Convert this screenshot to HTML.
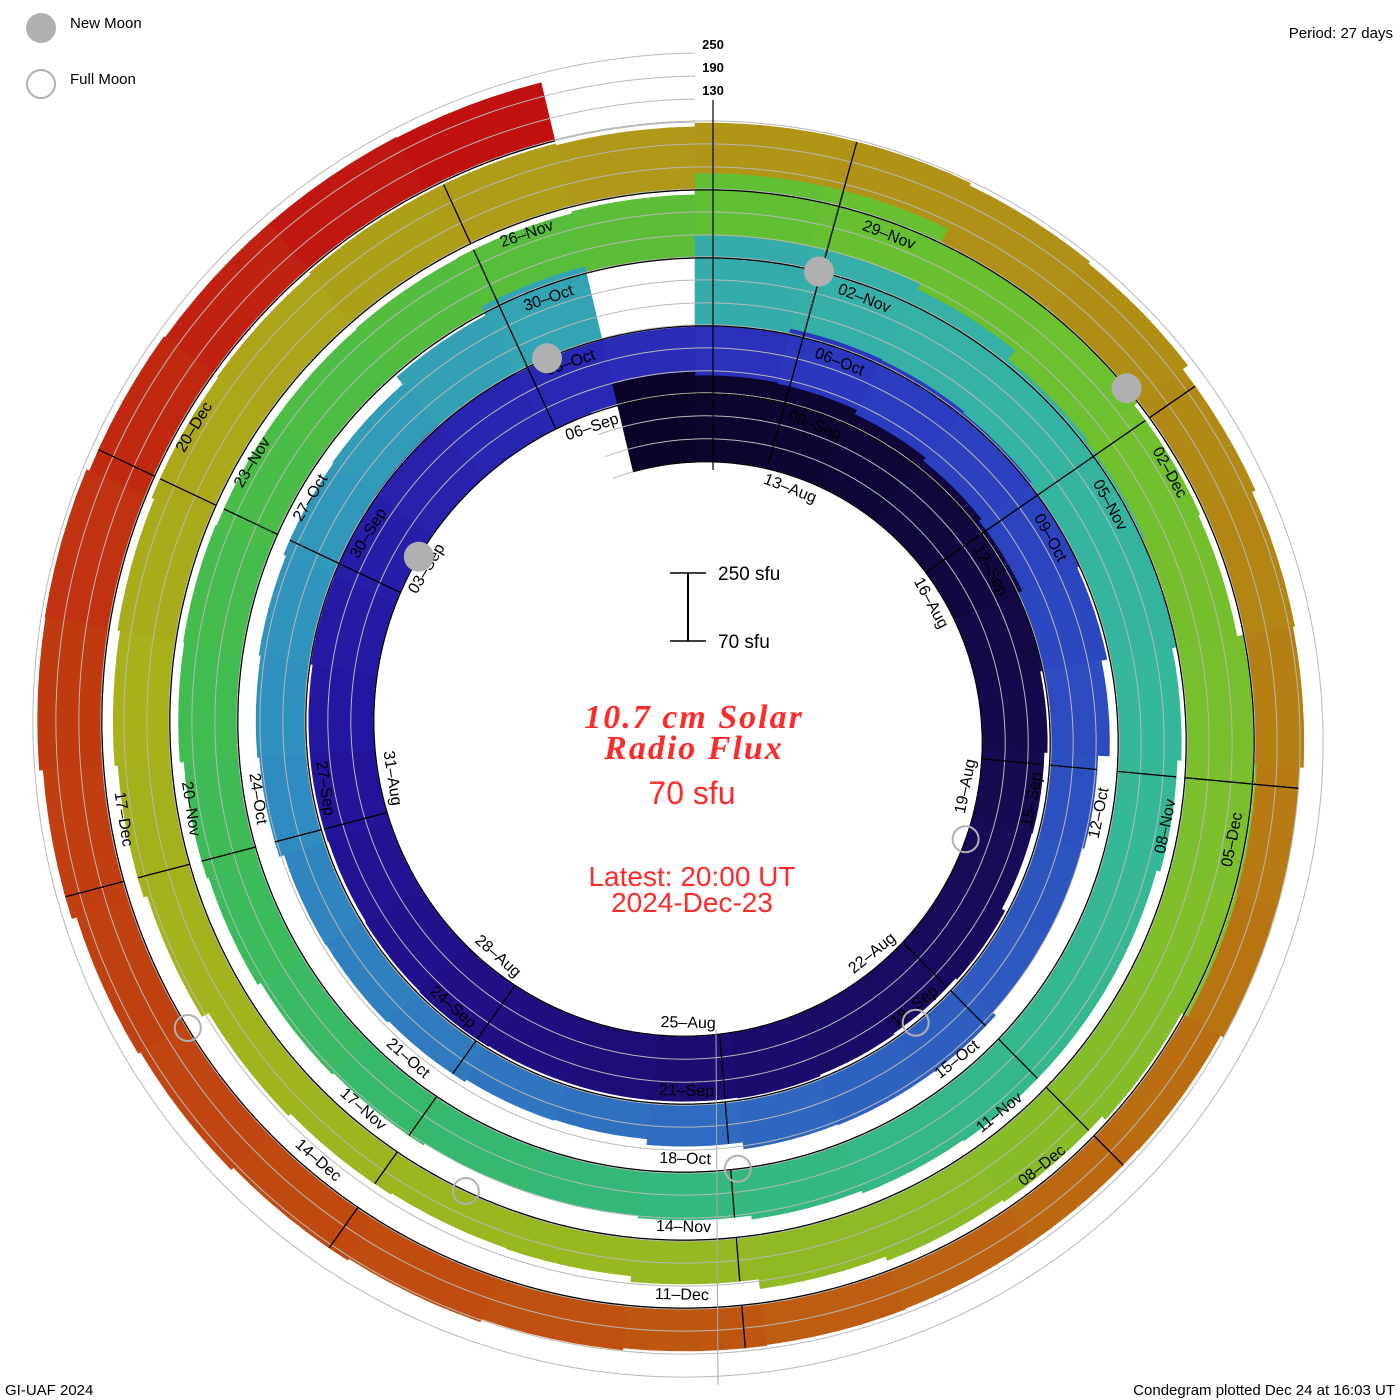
<!DOCTYPE html>
<html><head><meta charset="utf-8">
<style>
html,body{margin:0;padding:0;background:#fff;}
svg{display:block;}
text{font-family:"Liberation Sans",sans-serif;}
.serif{font-family:"Liberation Serif",serif;}
</style></head>
<body>
<svg id="chart" width="1400" height="1400" viewBox="0 0 1400 1400" xmlns="http://www.w3.org/2000/svg">
  <rect x="0" y="0" width="1400" height="1400" fill="#fff"/>
  <g id="bars"></g>
  <g id="grid"></g>
  <g id="seps"></g>
  <g id="base"></g>
  <g id="labels"></g>
  <g id="moons"></g>

  <line x1="713" y1="100" x2="713" y2="470" stroke="#000" stroke-width="1.2"/>
  <line x1="716" y1="1030" x2="718" y2="1385" stroke="#aaa" stroke-width="1"/>

  <g font-size="13" font-weight="bold" text-anchor="middle">
    <text x="713" y="49">250</text>
    <text x="713" y="72">190</text>
    <text x="713" y="95">130</text>
  </g>

  <g>
    <circle cx="41" cy="28" r="15" fill="#b0b0b0"/>
    <text x="70" y="28" font-size="15">New Moon</text>
    <circle cx="41" cy="84" r="14" fill="none" stroke="#b0b0b0" stroke-width="2"/>
    <text x="70" y="84" font-size="15">Full Moon</text>
  </g>
  <text x="1393" y="38" font-size="15" text-anchor="end">Period: 27 days</text>
  <text x="5" y="1395" font-size="15">GI-UAF 2024</text>
  <text x="1395" y="1395" font-size="15" text-anchor="end">Condegram plotted Dec 24 at 16:03 UT</text>

  <g>
    <line x1="688" y1="573" x2="688" y2="641" stroke="#000" stroke-width="2"/>
    <line x1="670" y1="573" x2="706" y2="573" stroke="#000" stroke-width="1.5"/>
    <line x1="670" y1="641" x2="706" y2="641" stroke="#000" stroke-width="1.5"/>
    <text x="718" y="580" font-size="19">250 sfu</text>
    <text x="718" y="648" font-size="19">70 sfu</text>
  </g>

  <g fill="#ff2a2a" text-anchor="middle">
    <text class="serif" x="694" y="728" font-size="34" font-style="italic" font-weight="bold" letter-spacing="2">10.7 cm Solar</text>
    <text class="serif" x="694" y="759" font-size="34" font-style="italic" font-weight="bold" letter-spacing="2">Radio Flux</text>
    <text x="692" y="804" font-size="32">70 sfu</text>
    <text x="692" y="886" font-size="28">Latest: 20:00 UT</text>
    <text x="692" y="912" font-size="28">2024-Dec-23</text>
  </g>
</svg>
<script>
// ---- data (daily 10.7 cm flux, sfu) ----
const fluxAug = [305,295,292,280,270,262,250,240,232,230,240,235,238,242,240,240,240,242,240,238,240,240]; // Aug 10..31
const fluxSep = [245,250,252,250,245,245,250,262,260,255,250,240,225,195,190,190,200,200,198,180,165,168,175,180,182,195,200,205,212,215];
const fluxOct = [240,265,null,305,305,290,260,255,250,235,225,215,215,215,212,205,195,188,190,195,200,210,215,225,228,225,225,228,230,235,290];
const fluxNov = [290,250,245,235,230,245,255,258,240,228,222,210,185,170,168,172,180,200,210,218,225,232,235,240,240,235,245,245,238,232];
const fluxDec = [215,205,200,190,188,180,178,178,180,182,187,195,200,208,215,228,238,240,232,228,228,226]; // Dec 1..22
const newMoons = [[8,3.08],[9,2.78],[10,1.53],[11,1.26]];      // [month index, day]
const fullMoons = [[7,19.77],[8,18.11],[9,17.48],[10,15.89],[11,15.38]];

// ---- geometry ----
const NS = "http://www.w3.org/2000/svg";
const CX = 695, CY = 732, R0 = 270, STEP = 68, PXS = 0.383, PERIOD = 27;
const T0 = Date.UTC(2024,7,11) + 0.4*86400000;
const DAY = 86400000;
const allFlux = [].concat(fluxAug, fluxSep, fluxOct, fluxNov, fluxDec);
const firstDay = Date.UTC(2024,7,10);
function thetaOf(ms){ return (ms - T0)/DAY/PERIOD; }
function baseR(th){ return R0 + STEP*th; }
function pt(th, r){ const a = th*2*Math.PI; return [CX + r*Math.sin(a), CY - r*Math.cos(a)]; }
function thick(v){ return (v-70)*PXS; }

const stops = [[-1,[10,4,40]],[7,[22,10,80]],[14,[30,12,120]],[20,[36,22,160]],[26,[42,44,184]],[29,[44,60,192]],[34,[44,80,192]],[41,[48,112,192]],[47,[48,144,192]],[53,[52,168,176]],[55,[53,176,168]],[61,[53,184,152]],[68,[51,184,120]],[74,[64,188,80]],[80,[92,190,56]],[82,[102,192,48]],[88,[124,191,44]],[95,[152,184,32]],[101,[168,176,26]],[107,[176,152,24]],[112,[176,138,20]],[115,[184,122,18]],[122,[192,80,16]],[128,[192,58,16]],[133,[192,16,16]]];
function colorAt(i){
  for(let k=0;k<stops.length-1;k++){
    const a=stops[k], b=stops[k+1];
    if(i<=b[0]){ const f=Math.max(0,(i-a[0])/(b[0]-a[0])); const c=a[1].map((v,j)=>Math.round(v+(b[1][j]-v)*f)); return `rgb(${c[0]},${c[1]},${c[2]})`; }
  }
  const c=stops[stops.length-1][1]; return `rgb(${c[0]},${c[1]},${c[2]})`;
}

const barsG = document.getElementById('bars');
for(let n=allFlux.length-1;n>=0;n--){
  const v = allFlux[n]; if(v===null) continue;
  const dayMs = firstDay + n*DAY;
  const i = Math.round((dayMs - Date.UTC(2024,7,11))/DAY);
  const th0 = i/PERIOD, th1 = (i+1)/PERIOD;
  const pts = [];
  const steps = 6;
  for(let s=0;s<=steps;s++){ const th=th0+(th1-th0)*s/steps; pts.push(pt(th, baseR(th)+thick(v))); }
  for(let s=steps;s>=0;s--){ const th=th0+(th1-th0)*s/steps; pts.push(pt(th, baseR(th))); }
  const p = document.createElementNS(NS,'polygon');
  p.setAttribute('points', pts.map(q=>q[0].toFixed(1)+','+q[1].toFixed(1)).join(' '));
  p.setAttribute('fill', colorAt(i));
  p.setAttribute('stroke', colorAt(i));
  p.setAttribute('stroke-width', '0.6');
  
  
  barsG.appendChild(p);
}

function spiralPath(thA, thB, off){
  let d=''; const st=0.002;
  for(let th=thA; th<=thB+1e-9; th+=st){ const q=pt(th, baseR(th)+off); d += (d?'L':'M')+q[0].toFixed(1)+' '+q[1].toFixed(1); }
  return d;
}
const gridG = document.getElementById('grid');
[0,23,46,69].forEach(off=>{
  const p=document.createElementNS(NS,'path');
  p.setAttribute('d', spiralPath(-0.05, 5.0, off));
  p.setAttribute('fill','none'); p.setAttribute('stroke','#b8b8b8'); p.setAttribute('stroke-width','1');
  
  
  gridG.appendChild(p);
});
const baseG = document.getElementById('base');
{
  const p=document.createElementNS(NS,'path');
  p.setAttribute('d', spiralPath(-1/PERIOD, 134/PERIOD, 0));
  p.setAttribute('fill','none'); p.setAttribute('stroke','#000'); p.setAttribute('stroke-width','1.2');
  
  
  baseG.appendChild(p);
}

const months=['Jan','Feb','Mar','Apr','May','Jun','Jul','Aug','Sep','Oct','Nov','Dec'];
const labG=document.getElementById('labels'), sepG=document.getElementById('seps');
for(let k=0;k<=43;k++){
  const ms = Date.UTC(2024,7,13)+3*k*DAY;
  const d = new Date(ms);
  const txt = String(d.getUTCDate()).padStart(2,'0')+'\u2013'+months[d.getUTCMonth()];
  const th = thetaOf(ms);
  const q = pt(th, baseR(th)-13);
  let ang = ((th%1)+1)%1*360;
  const rot = (ang>90 && ang<270) ? ang-180 : ang;
  const t=document.createElementNS(NS,'text');
  t.setAttribute('x',q[0].toFixed(1)); t.setAttribute('y',q[1].toFixed(1));
  t.setAttribute('font-size','16'); t.setAttribute('text-anchor','middle'); t.setAttribute('dominant-baseline','central');
  t.setAttribute('transform',`rotate(${rot.toFixed(1)} ${q[0].toFixed(1)} ${q[1].toFixed(1)})`);
  t.textContent = txt;
  
  
  labG.appendChild(t);
  const sms = ms - 0.45*DAY;
  const sth = thetaOf(sms);
  const idx = Math.floor((sms - Date.UTC(2024,7,10))/DAY);
  const v = allFlux[idx];
  if(v){
    const a=pt(sth, baseR(sth)), b=pt(sth, baseR(sth)+thick(v));
    const l=document.createElementNS(NS,'line');
    l.setAttribute('x1',a[0].toFixed(1)); l.setAttribute('y1',a[1].toFixed(1));
    l.setAttribute('x2',b[0].toFixed(1)); l.setAttribute('y2',b[1].toFixed(1));
    l.setAttribute('stroke','#000'); l.setAttribute('stroke-width','1.3');
    
    
    sepG.appendChild(l);
  }
}

const moonG=document.getElementById('moons');
function moonAt(m, day){ const ms=Date.UTC(2024,m,1)+(day-1)*DAY; const th=thetaOf(ms); return pt(th, baseR(th)); }
newMoons.forEach(mm=>{
  const q=moonAt(mm[0],mm[1]);
  const c=document.createElementNS(NS,'circle');
  c.setAttribute('cx',q[0].toFixed(1)); c.setAttribute('cy',q[1].toFixed(1)); c.setAttribute('r','15'); c.setAttribute('fill','#b0b0b0');
  
  
  moonG.appendChild(c);
});
fullMoons.forEach(mm=>{
  const q=moonAt(mm[0],mm[1]);
  const c=document.createElementNS(NS,'circle');
  c.setAttribute('cx',q[0].toFixed(1)); c.setAttribute('cy',q[1].toFixed(1)); c.setAttribute('r','13'); c.setAttribute('fill','none'); c.setAttribute('stroke','#b0b0b0'); c.setAttribute('stroke-width','2');
  
  
  moonG.appendChild(c);
});
</script>
</body></html>
